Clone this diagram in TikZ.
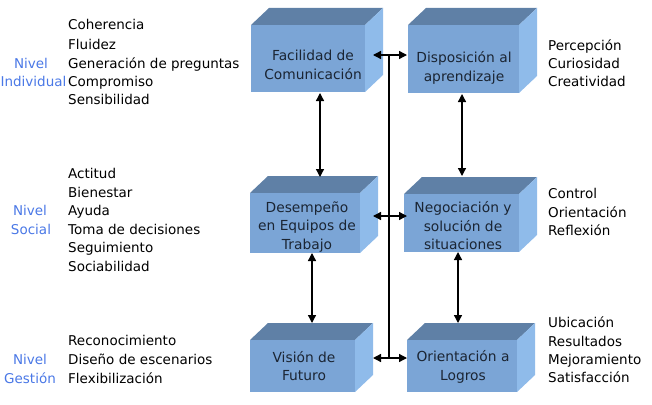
\documentclass[tikz,border=0pt]{standalone}
\usepackage{fontspec}
\setmainfont{DejaVu Sans}
\usetikzlibrary{arrows.meta}
\definecolor{frontc}{HTML}{7BA5D6}
\definecolor{topc}{HTML}{5F80A6}
\definecolor{sidec}{HTML}{8FBBEA}
\definecolor{nivelc}{HTML}{4A78E6}
\definecolor{boxtext}{HTML}{1B2533}
% #1 name, #2 x1, #3 y1, #4 x2, #5 y2 (front face)
\newcommand\mycube[5]{%
  \fill[topc] (#2,#3) -- ++(18,-17) -- ({#4+18},{#3-17}) -- (#4,#3) -- cycle;
  \fill[sidec] (#4,#3) -- ({#4+18},{#3-17}) -- ({#4+18},{#5-17}) -- (#4,#5) -- cycle;
  \node[frontface, minimum width={#4-#2}, minimum height={#5-#3}] (#1) at ({(#2+#4)/2},{(#3+#5)/2}) {};
}
\begin{document}
\begin{tikzpicture}[x=1pt,y=-1pt,
  frontface/.style={fill=frontc, inner sep=0, outer sep=0, draw=none},
  listtxt/.style={anchor=base west, font=\fontsize{13.5}{16}\selectfont, inner sep=0},
  niveltxt/.style={anchor=base, font=\fontsize{13.5}{16}\selectfont, text=nivelc, inner sep=0},
  boxtxt/.style={align=center, font=\fontsize{13.8}{18.5}\selectfont, text=boxtext, inner sep=0},
  tip/.tip={Triangle[length=8pt,width=8pt]},
  conn/.style={line width=1.3pt, tip-tip},
  plainline/.style={line width=1.3pt},
  ]
\path[use as bounding box] (0,0) rectangle (652,404);

% cubes
\mycube{c1}{251}{25}{365}{92}
\mycube{c2}{408}{25}{519}{93}
\mycube{c3}{250}{193}{360}{253}
\mycube{c4}{404}{194}{519}{252}
\mycube{c5}{250}{340}{355}{392}
\mycube{c6}{407}{340}{517}{392}

\node[boxtxt] (t1) at (313,65) {Facilidad de\\Comunicación};
\node[boxtxt] (t2) at (464,68) {Disposición al\\aprendizaje};
\node[boxtxt] (t3) at (307,227) {Desempeño\\en Equipos de\\Trabajo};
\node[boxtxt] (t4) at (463,226) {Negociación y\\solución de\\situaciones};
\node[boxtxt] (t5) at (304,366) {Visión de\\Futuro};
\node[boxtxt] (t6) at (463,367) {Orientación a\\Logros};

% connectors
\coordinate (v1) at (389,55);
\coordinate (v3) at (389,358);
\draw[plainline] (v1) -- (v3);
\coordinate (h1a) at (373,55);  \coordinate (h1b) at (407,55);
\coordinate (h2a) at (373,216); \coordinate (h2b) at (407,216);
\coordinate (h3a) at (373,358); \coordinate (h3b) at (407,358);
\draw[conn] (h1a) -- (h1b);
\draw[conn] (h2a) -- (h2b);
\draw[conn] (h3a) -- (h3b);

\coordinate (a13) at (320,93);  \coordinate (b13) at (320,177);
\coordinate (a35) at (312,253); \coordinate (b35) at (312,323);
\coordinate (a24) at (462,94);  \coordinate (b24) at (462,176);
\coordinate (a46) at (458,252); \coordinate (b46) at (458,323);
\draw[conn] (a13) -- (b13);
\draw[conn] (a35) -- (b35);
\draw[conn] (a24) -- (b24);
\draw[conn] (a46) -- (b46);

% left lists
\node[listtxt] (l1) at (68,30) {Coherencia};
\node[listtxt] (l2) at (68,49) {Fluidez};
\node[listtxt] (l3) at (68,68) {Generación de preguntas};
\node[listtxt] (l4) at (68,86) {Compromiso};
\node[listtxt] (l5) at (68,104) {Sensibilidad};
\node[niveltxt] (n1a) at (31,68) {Nivel};
\node[niveltxt] (n1b) at (33.5,86) {Individual};

\node[listtxt] (s1) at (68,178) {Actitud};
\node[listtxt] (s2) at (68,197) {Bienestar};
\node[listtxt] (s3) at (68,215) {Ayuda};
\node[listtxt] (s4) at (68,234) {Toma de decisiones};
\node[listtxt] (s5) at (68,252) {Seguimiento};
\node[listtxt] (s6) at (68,271) {Sociabilidad};
\node[niveltxt] (n2a) at (30,215) {Nivel};
\node[niveltxt] (n2b) at (31,234) {Social};

\node[listtxt] (g1) at (68,345) {Reconocimiento};
\node[listtxt] (g2) at (68,364) {Diseño de escenarios};
\node[listtxt] (g3) at (68,383) {Flexibilización};
\node[niveltxt] (n3a) at (30,364) {Nivel};
\node[niveltxt] (n3b) at (30,383) {Gestión};

% right lists
\node[listtxt] (r1) at (548,50) {Percepción};
\node[listtxt] (r2) at (548,68) {Curiosidad};
\node[listtxt] (r3) at (548,86) {Creatividad};

\node[listtxt] (r4) at (548,198) {Control};
\node[listtxt] (r5) at (548,217) {Orientación};
\node[listtxt] (r6) at (548,235) {Reflexión};

\node[listtxt] (r7) at (548,327) {Ubicación};
\node[listtxt] (r8) at (548,346) {Resultados};
\node[listtxt] (r9) at (548,364) {Mejoramiento};
\node[listtxt] (r10) at (548,382) {Satisfacción};
\end{tikzpicture}
\end{document}
